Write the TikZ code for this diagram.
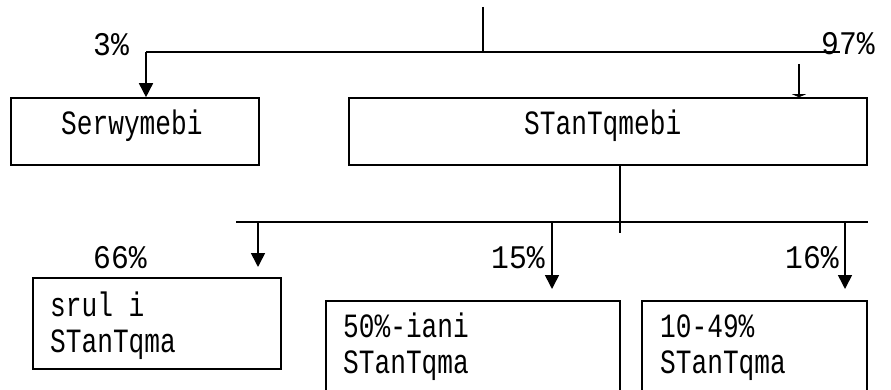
\documentclass[tikz,border=0pt]{standalone}
\usepackage{fontspec}
\newfontfamily\diafont[FakeStretch=0.77]{Liberation Mono}
\newfontfamily\pctfont[FakeStretch=0.9]{Liberation Mono}
\usetikzlibrary{arrows.meta}
\tikzset{
  box/.style={draw=black, line width=1.6pt, rectangle, inner sep=0pt},
  txt/.style={font=\diafont\fontsize{34}{36}\selectfont, inner sep=0pt, anchor=base west, align=left},
  pct/.style={font=\pctfont\fontsize{33}{36}\selectfont, inner sep=0pt, anchor=base west},
  conn/.style={line width=1.6pt},
  arr/.style={conn, -{Triangle[width=14pt,length=14pt]}},
  flatarr/.style={conn, -{Triangle[width=14pt,length=3pt]}}
}
\begin{document}
\begin{tikzpicture}[x=1pt,y=-1pt]
\useasboundingbox (0,0) rectangle (891,390);
\fill[white] (0,0) rectangle (891,390);
\clip (0,0) rectangle (891,390);
% boxes
\node[box, minimum width=248pt, minimum height=67pt] (ser) at (135,131.5) {};
\node[box, minimum width=518pt, minimum height=67pt] (stq) at (608,131.5) {};
\node[box, minimum width=248pt, minimum height=91pt] (srl) at (157,323.5) {};
\node[box, minimum width=294pt, minimum height=120pt] (ian) at (473,361) {};
\node[box, minimum width=225pt, minimum height=120pt] (b49) at (754.5,361) {};
% texts
\node[txt] (serT) at (61,135) {Serwymebi};
\node[txt] (stqT) at (524,135) {STanTqmebi};
\node[txt] (srlT) at (50,352) {srul i\\STanTqma};
\node[txt] (ianT) at (343,373) {50\%-iani\\STanTqma};
\node[txt] (b49T) at (660,373) {10-49\%\\STanTqma};
% labels
\node[pct] (l3) at (93,56) {3\%};
\node[pct] (l97) at (821,55) {97\%};
\node[pct] (l66) at (93,268) {66\%};
\node[pct] (l15) at (491,268) {15\%};
\node[pct] (l16) at (785,268) {16\%};
% upper connectors
\coordinate (top) at (483,7);
\coordinate (topj) at (483,52);
\coordinate (hl) at (146,52);
\coordinate (hr) at (840,52);
\coordinate (rs) at (799,64);
\draw[conn] (top) -- (topj);
\draw[conn] (hl) -- (hr);
\draw[arr] (hl) -- (ser.north -| hl);
\draw[flatarr] (rs) -- (stq.north -| rs);
% lower connectors
\coordinate (vd) at (620,233);
\coordinate (ll) at (236,222);
\coordinate (lr) at (868,222);
\coordinate (a1) at (258,222);
\coordinate (a1e) at (258,267);
\coordinate (a2) at (552,222);
\coordinate (a2e) at (552,289);
\coordinate (a3) at (845,222);
\coordinate (a3e) at (845,289);
\draw[conn] (stq.south -| vd) -- (vd);
\draw[conn] (ll) -- (lr);
\draw[arr] (a1) -- (a1e);
\draw[arr] (a2) -- (a2e);
\draw[arr] (a3) -- (a3e);
\end{tikzpicture}
\end{document}
